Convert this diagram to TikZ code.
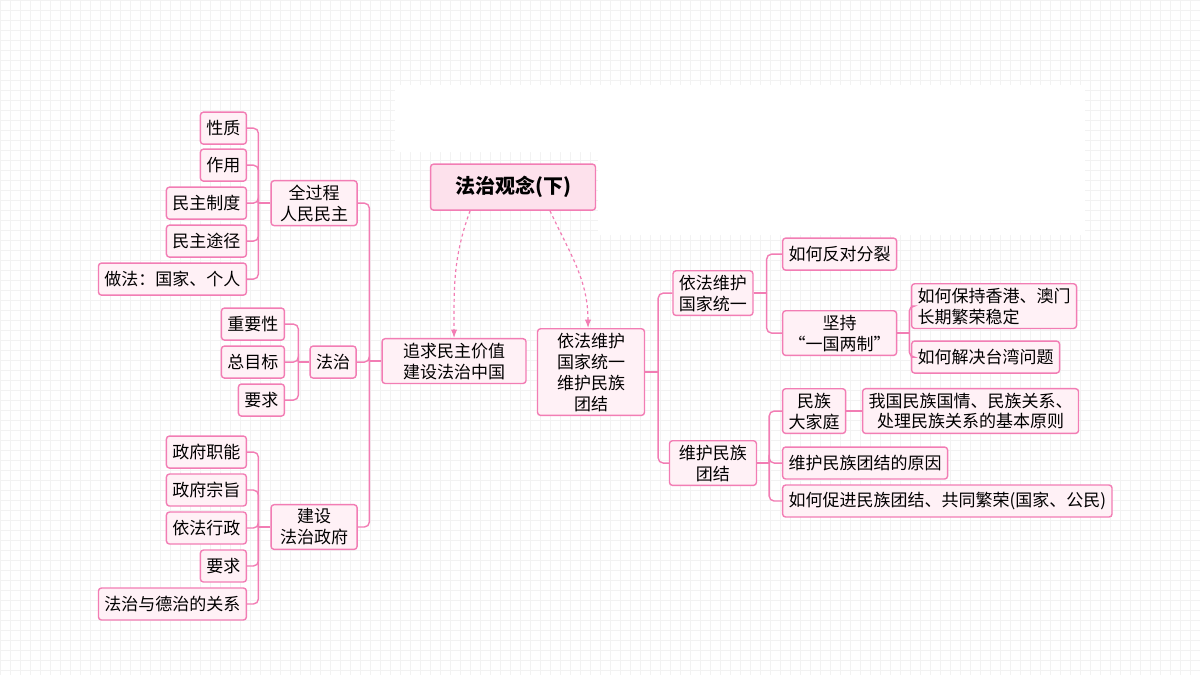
\documentclass[tikz,border=0pt]{standalone}
\usepackage{fontspec}
\setmainfont{Noto Sans CJK SC}
\usepackage{xcolor}
\usetikzlibrary{arrows.meta, positioning, calc}
\definecolor{pinkline}{HTML}{F27DB4}
\definecolor{pinkfill}{HTML}{FFF1F6}
\definecolor{rootfill}{HTML}{FDE1EC}

\begin{document}
\begin{tikzpicture}[x=1pt, y=-1pt, >=Latex, line width=1.4pt]
    % Styles
    \tikzstyle{box} = [rectangle, rounded corners=3pt, draw=pinkline, fill=pinkfill, align=center, inner xsep=6pt, inner ysep=4pt, minimum height=32pt, font=\fontsize{17}{21}\selectfont]
    \tikzstyle{branch} = [draw=pinkline, rounded corners=5pt]

    % Background
    \fill[white] (0,0) rectangle (1200,675);
    \foreach \g in {0,10,...,1200} \draw[black!5, line width=0.4pt] (\g,0) -- (\g,675);
    \foreach \g in {0,10,...,670} \draw[black!5, line width=0.4pt] (0,\g) -- (1200,\g);
    \fill[white] (395,85) -- (1085,85) -- (1085,235) -- (598,235) -- (598,152) -- (395,152) -- cycle;

    % Centre
    \node [box, fill=rootfill, font=\fontsize{20}{24}\bfseries\selectfont, minimum height=46pt, minimum width=165pt] (root) at (513,187) {法治观念(下)};
    \node [box, minimum width=144pt] (demo) at (454,361) {追求民主价值\\建设法治中国};
    \node [box, minimum width=107pt, inner xsep=2pt] (unity) at (591,372) {依法维护\\国家统一\\维护民族\\团结};

    % Left side
    \node [box, minimum width=86pt] (whole) at (314,203) {全过程\\人民民主};
    \node [box] (rule) at (333,362) {法治};
    \node [box, minimum width=86pt] (gov) at (314,527) {建设\\法治政府};

    \node [box, anchor=east] (nature) at (247,128) {性质};
    \node [box, anchor=east] (role) at (247,165) {作用};
    \node [box, anchor=east] (system) at (247,203) {民主制度};
    \node [box, anchor=east] (path) at (247,241) {民主途径};
    \node [box, anchor=east] (practice) at (247,279) {做法：国家、个人};

    \node [box, anchor=east] (value) at (285,324) {重要性};
    \node [box, anchor=east] (goal) at (285,362) {总目标};
    \node [box, anchor=east] (demand) at (285,400) {要求};

    \node [box, anchor=east] (func) at (247,452) {政府职能};
    \node [box, anchor=east] (aim) at (247,490) {政府宗旨};
    \node [box, anchor=east] (admin) at (247,528) {依法行政};
    \node [box, anchor=east] (govreq) at (247,566) {要求};
    \node [box, anchor=east] (moral) at (247,604) {法治与德治的关系};

    % Right side
    \node [box] (state) at (713,293) {依法维护\\国家统一};
    \node [box, minimum width=87pt] (nation) at (713,463) {维护民族\\团结};

    \node [box, anchor=west] (split) at (782,254) {如何反对分裂};
    \node [box, anchor=west, minimum width=105pt] (twosys) at (782,333) {坚持\\“一国两制”};
    \node [box, anchor=west, align=left] (hkmo) at (911,306) {如何保持香港、澳门\\长期繁荣稳定};
    \node [box, anchor=west] (taiwan) at (911,357) {如何解决台湾问题};

    \node [box, anchor=west] (family) at (782,411) {民族\\大家庭};
    \node [box, anchor=west] (facts) at (862,411) {我国民族国情、民族关系、\\处理民族关系的基本原则};
    \node [box, anchor=west] (reason) at (782,463) {维护民族团结的原因};
    \node [box, anchor=west] (promote) at (782,501) {如何促进民族团结、共同繁荣(国家、公民)};

    % Dashed links
    \draw[->, pinkline, dashed, line width=1.2pt] ([xshift=-43pt]root.south) to[out=-110, in=90] (demo.north);
    \draw[->, pinkline, dashed, line width=1.2pt] ([xshift=37pt]root.south) to[out=-65, in=90] ([xshift=-3pt]unity.north);

    % Branches
    \draw[branch] (demo.west) -- ++(-12,0) coordinate (jdemo);
    \foreach \c in {whole, rule, gov}
        \draw[branch] (jdemo) |- (\c.east);
    \draw[branch] (whole.west) -- ++(-12,0) coordinate (jwhole);
    \foreach \c in {nature, role, system, path, practice}
        \draw[branch] (jwhole) |- (\c.east);
    \draw[branch] (rule.west) -- ++(-11,0) coordinate (jrule);
    \foreach \c in {value, goal, demand}
        \draw[branch] (jrule) |- (\c.east);
    \draw[branch] (gov.west) -- ++(-12,0) coordinate (jgov);
    \foreach \c in {func, aim, admin, govreq, moral}
        \draw[branch] (jgov) |- (\c.east);
    \draw[branch] (unity.east) -- ++(13,0) coordinate (junity);
    \foreach \c in {state, nation}
        \draw[branch] (junity) |- (\c.west);
    \draw[branch] (state.east) -- ++(13,0) coordinate (jstate);
    \foreach \c in {split, twosys}
        \draw[branch] (jstate) |- (\c.west);
    \draw[branch] (twosys.east) -- ++(12,0) coordinate (jtwosys);
    \foreach \c in {hkmo, taiwan}
        \draw[branch] (jtwosys) |- (\c.west);
    \draw[branch] (nation.east) -- ++(12,0) coordinate (jnation);
    \foreach \c in {family, reason, promote}
        \draw[branch] (jnation) |- (\c.west);
    \draw[branch] (family.east) -- (facts.west);
\end{tikzpicture}
\end{document}
